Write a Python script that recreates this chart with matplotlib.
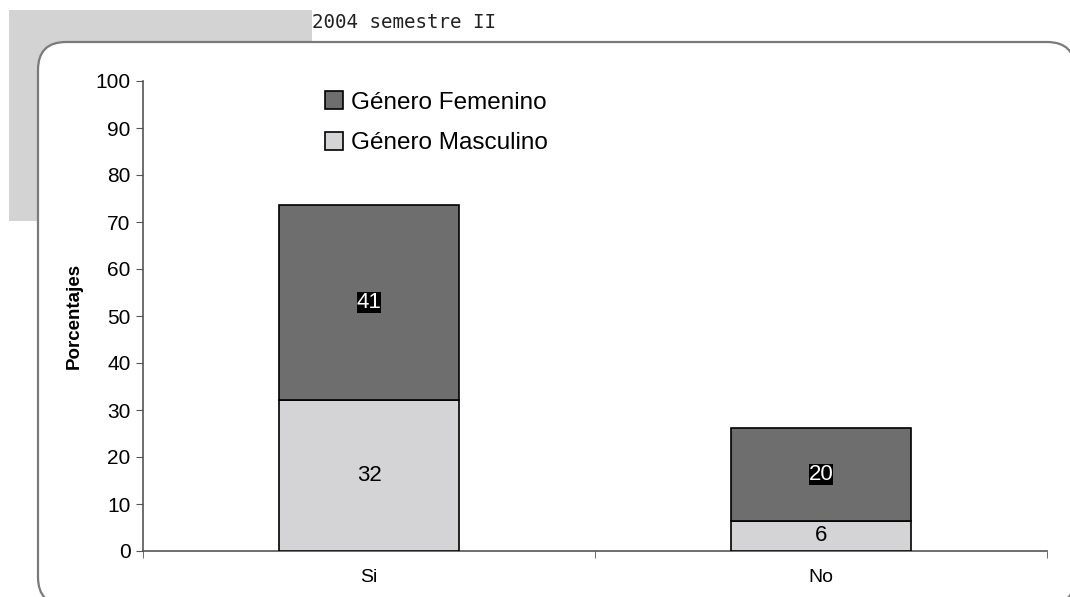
import matplotlib.pyplot as plt
from matplotlib.patches import Rectangle, FancyBboxPatch
import numpy as np

# data
categorias = ['Si', 'No']
masculino = [32.1, 6.4]
femenino = [41.5, 19.8]
etiq_masc = ['32', '6']
etiq_fem = ['41', '20']

col_fem = '#6e6e6e'
col_masc = '#d4d4d6'

plt.rcParams['font.family'] = ['Liberation Sans', 'DejaVu Sans']

fig = plt.figure(figsize=(10.7, 5.97), dpi=100)

# decoration: grey block and rounded frame
fig.patches.append(Rectangle((0.09, 5.97 - 2.21), 3.03, 2.11, transform=fig.dpi_scale_trans,
                             facecolor='#d3d3d3', edgecolor='none', zorder=0))
fig.patches.append(FancyBboxPatch((0.38, -0.08), 10.37, 5.63, transform=fig.dpi_scale_trans,
                                  boxstyle='round,pad=0,rounding_size=0.28',
                                  facecolor='white', edgecolor='#7a7a7a', linewidth=1.6, zorder=1))
fig.text(312 / 1070, 1 - 23 / 597, '2004 semestre II', family='DejaVu Sans Mono',
         fontsize=13.8, color='#222222', va='center', ha='left')

ax = fig.add_axes([143 / 1070, 46 / 597, 904 / 1070, 470 / 597])
ax.set_facecolor('none')
ax.set_zorder(2)

x = np.arange(len(categorias))
b1 = ax.bar(x, masculino, width=0.4, color=col_masc, edgecolor='black', linewidth=1.2,
            label='Género Masculino', zorder=3)
b2 = ax.bar(x, femenino, width=0.4, bottom=masculino, color=col_fem, edgecolor='black',
            linewidth=1.2, label='Género Femenino', zorder=3)

for i in range(len(categorias)):
    ax.text(x[i], masculino[i] / 2, etiq_masc[i], ha='center', va='center', fontsize=16, color='black', zorder=4)
    ax.text(x[i], masculino[i] + femenino[i] / 2, etiq_fem[i], ha='center', va='center', fontsize=16,
            color='white', zorder=4,
            bbox=dict(boxstyle='square,pad=0.0', facecolor='black', edgecolor='none'))

ax.set_xlim(-0.5, 1.5)
ax.set_ylim(0, 100)
ax.set_yticks(np.arange(0, 101, 10))
ax.set_xticks(x)
ax.set_xticklabels(categorias, fontsize=14)
ax.set_xticks([-0.5, 0.5, 1.5], minor=True)
ax.tick_params(axis='x', which='major', length=0, pad=13)
ax.tick_params(axis='x', which='minor', length=5, direction='out', color='#555555')
ax.tick_params(axis='y', length=5, direction='out', color='#555555', labelsize=15, pad=4)
for s in ['top', 'right']:
    ax.spines[s].set_visible(False)
for s in ['left', 'bottom']:
    ax.spines[s].set_color('#555555')
    ax.spines[s].set_linewidth(1.2)

ax.set_ylabel('Porcentajes', fontsize=13.5, fontweight='bold', labelpad=9)

ax.legend([b2, b1], ['Género Femenino', 'Género Masculino'], loc='upper left',
          bbox_to_anchor=(313 / 1070, 1 - 79 / 597), bbox_transform=fig.transFigure,
          frameon=False, fontsize=17.5, handlelength=0.75, handleheight=0.75,
          handletextpad=0.3, labelspacing=0.75, borderpad=0)

fig.savefig('out.png', dpi=100)
